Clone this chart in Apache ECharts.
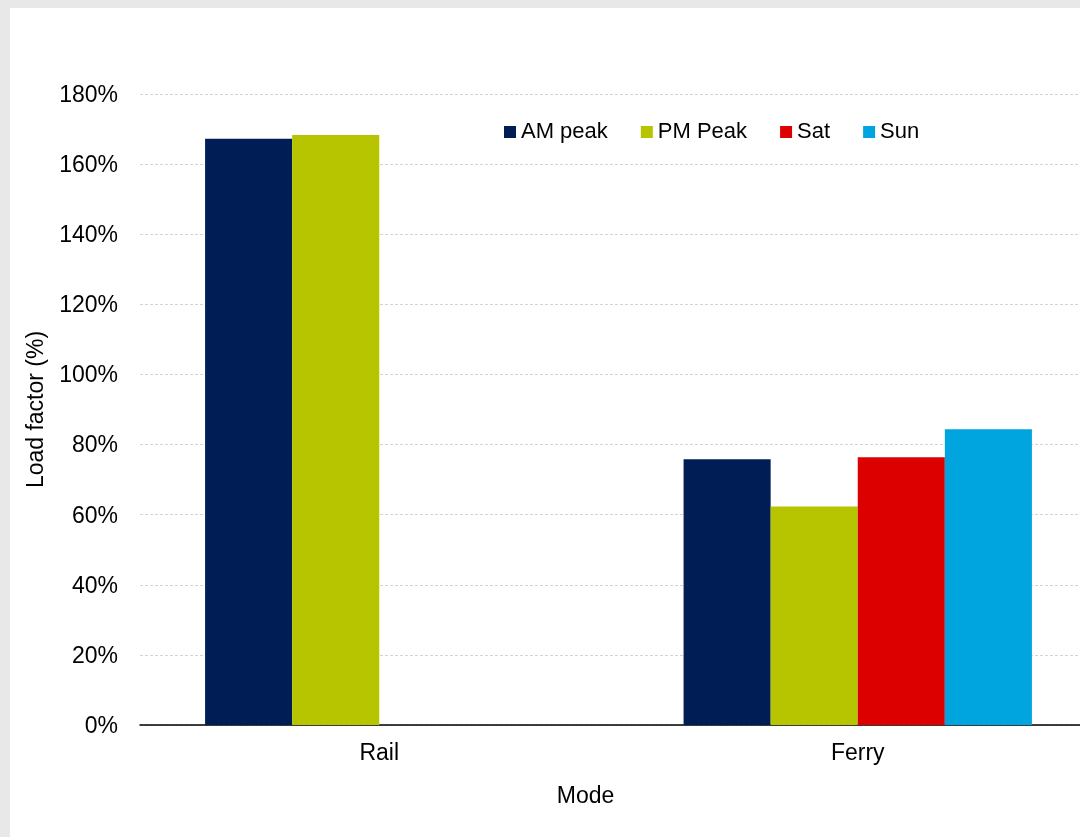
<!DOCTYPE html>
<html>
<head>
<meta charset="utf-8">
<style>
  html, body { margin: 0; padding: 0; width: 1080px; height: 837px; overflow: hidden; background: #e8e8e8; }
  #chart { position: absolute; left: 10px; top: 8px; width: 1100px; height: 829px; background: #ffffff; }
</style>
<script src="https://cdn.jsdelivr.net/npm/echarts@6/dist/echarts.min.js"></script>
</head>
<body>
<div id="chart"></div>
<script>
// Load factor by transport mode and period
const modes = ['Rail', 'Ferry'];
const periods = ['AM peak', 'PM Peak', 'Sat', 'Sun'];
const amPeak = [167.2, 75.8];
const pmPeak = [168.3, 62.3];
const sat = [null, 76.4];
const sun = [null, 84.4];
const colors = ['#001e55', '#b7c400', '#dd0000', '#00a5df'];

const font = 'Liberation Sans, Arial, sans-serif';
const chart = echarts.init(document.getElementById('chart'));

const seriesValues = [amPeak, pmPeak, sat, sun];

chart.setOption({
  animation: false,
  color: colors,
  textStyle: { fontFamily: font, color: '#000' },
  legend: {
    left: 489,
    top: 108,
    itemWidth: 12,
    itemHeight: 12,
    itemGap: 33,
    icon: 'rect',
    textStyle: { fontFamily: font, fontSize: 22, color: '#000' },
    data: periods
  },
  grid: { left: 130, right: 13, top: 86, bottom: 112, containLabel: false },
  xAxis: {
    type: 'category',
    data: modes,
    name: 'Mode',
    nameLocation: 'middle',
    nameGap: 60,
    nameTextStyle: { fontFamily: font, fontSize: 23, color: '#000', padding: [0, 66, 0, 0] },
    axisLine: { lineStyle: { color: '#000', width: 1.5 } },
    axisTick: { show: false },
    axisLabel: { fontFamily: font, fontSize: 23, color: '#000', margin: 17 }
  },
  yAxis: {
    type: 'value',
    min: 0,
    max: 180,
    interval: 20,
    name: 'Load factor (%)',
    nameLocation: 'middle',
    nameGap: 89,
    nameTextStyle: { fontFamily: font, fontSize: 23, color: '#000' },
    axisLine: { show: false },
    axisTick: { show: false },
    axisLabel: {
      fontFamily: font, fontSize: 23, color: '#000', margin: 22,
      verticalAlign: 'top', lineHeight: 23, padding: [-10, 0, 0, 0],
      formatter: '{value}%'
    },
    splitLine: { lineStyle: { color: '#d4d4d4', width: 1, type: [3, 2] } }
  },
  series: periods.map((name, i) => ({
    name: name,
    type: 'bar',
    data: seriesValues[i],
    barGap: '0%',
    barCategoryGap: '27.2%',
    itemStyle: { color: colors[i] }
  }))
});
</script>
</body>
</html>
